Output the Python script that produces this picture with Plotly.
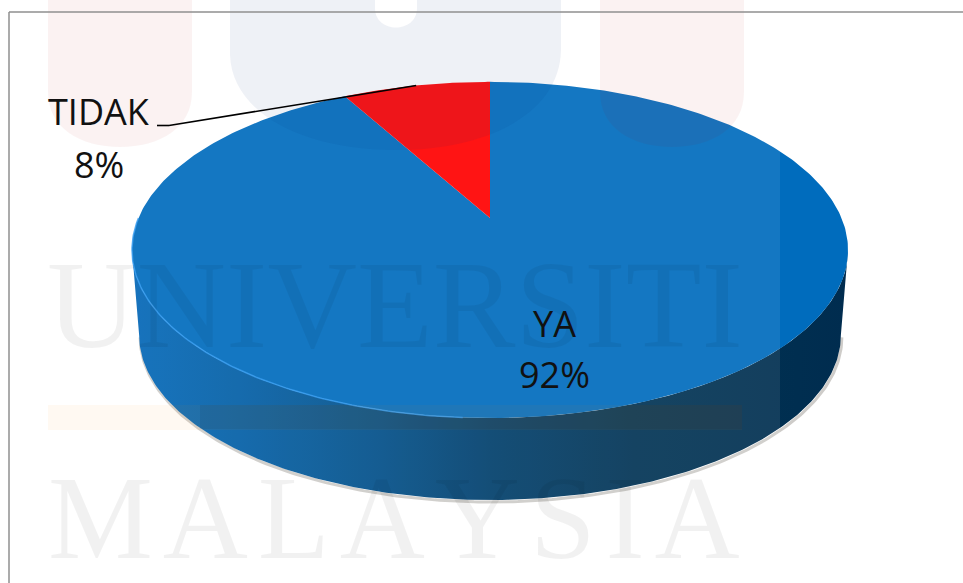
import numpy as np
import plotly.graph_objects as go

labels = ['YA', 'TIDAK']
values = [92, 8]
top_colors = ['#006cbd', '#ff0000']

# pixel sized canvas, y runs downwards like the screenshot
W, H = 963, 583
cx = 490
apex_top = 218
apex_bottom = 304
tilt = 0.19
scale_x = 351.5
scale_y = 162
bottom_shrink = 0.98

side_scale = [[0, '#0468b8'], [0.15, '#035fa6'], [0.35, '#024f88'], [0.5, '#013f6c'],
              [0.7, '#023455'], [0.93, '#002e50'], [1, '#002c4f']]


def project(angle, apex=apex_top, shrink=1.0):
    # angle is clockwise from 12 o'clock on the disc, perspective makes the centre sit high
    u = np.sin(angle)
    v = -np.cos(angle)
    w = 1 - tilt * v
    return cx + shrink * scale_x * u / w, apex + shrink * scale_y * v / w


def filled(x, y, color=None, **kw):
    return go.Scatter(x=x, y=y, mode='lines', fill='toself', fillcolor=color,
                      line=dict(width=0), hoverinfo='skip', showlegend=False, **kw)


fig = go.Figure()

# side wall, between the widest points of the two projected discs
half = np.arccos(tilt)
front = np.linspace(np.pi - half, np.pi + half, 240)
tx, ty = project(front)
bx, by = project(front, apex_bottom, bottom_shrink)
fig.add_trace(go.Scatter(x=bx + 1, y=by + 2, mode='lines', line=dict(color='rgba(60,50,40,0.25)', width=3),
                         hoverinfo='skip', showlegend=False))
side_x = np.concatenate([tx, bx[::-1]])
side_y = np.concatenate([ty, by[::-1]])
fig.add_trace(filled(side_x, side_y, fillgradient=dict(type='horizontal', colorscale=side_scale)))

# darker part of the watermark band on the wall
fig.add_trace(filled([200, 742, 742, 200], [405, 405, 429, 429], 'rgba(0,0,0,0.07)'))

# slices, start at 12 o'clock and run backwards so TIDAK ends up left of the top
total = sum(values)
shares = [v / total for v in values]
start = 2 * np.pi * (1 - shares[1])
ya_angles = np.linspace(0, start, 400)
tidak_angles = np.linspace(start, 2 * np.pi, 60)
yx, yy = project(ya_angles)
fig.add_trace(filled(np.r_[cx, yx, cx], np.r_[apex_top, yy, apex_top], top_colors[0]))
rx, ry = project(tidak_angles)
fig.add_trace(filled(np.r_[cx, rx, cx], np.r_[apex_top, ry, apex_top], top_colors[1]))

# bright rim on the front left
rim = np.linspace(np.pi * 1.02, np.pi * 1.5, 120)
hx, hy = project(rim)
fig.add_trace(go.Scatter(x=hx, y=hy, mode='lines', line=dict(color='rgba(40,150,240,0.8)', width=1.5),
                         hoverinfo='skip', showlegend=False))

# leader line goes to the middle of the small slice
lx, ly = project(start + np.pi * shares[1])

shapes = [
    # washed out logo and the white layer of the watermark
    dict(type='rect', x0=40, x1=780, y0=0, y1=H, fillcolor='rgba(255,255,255,0.08)', line_width=0),
    dict(type='path', path='M48 0 L48 92 C48 128 80 147 120 147 C160 147 192 128 192 92 L192 0 Z',
         fillcolor='rgba(180,0,0,0.05)', line_width=0),
    dict(type='path', path='M600 0 L600 92 C600 128 632 147 672 147 C712 147 744 128 744 92 L744 0 Z',
         fillcolor='rgba(180,0,0,0.05)', line_width=0),
    dict(type='path', path='M230 0 L230 55 C232 112 300 150 396 150 C490 150 560 112 561 50 L561 0 '
                           'L417 0 L417 8 C417 34 375 34 375 8 L375 0 Z',
         fillcolor='rgba(0,50,120,0.065)', line_width=0),
    dict(type='rect', x0=48, x1=742, y0=405, y1=430, fillcolor='rgba(255,130,0,0.05)', line_width=0),
    # frame
    dict(type='line', x0=9, x1=W, y0=12, y1=12, line=dict(color='#8f8f8f', width=1.5)),
    dict(type='line', x0=9, x1=9, y0=12, y1=H, line=dict(color='#8f8f8f', width=1.5)),
    # leader
    dict(type='line', x0=157, x1=169, y0=125.5, y1=125.5, line=dict(color='#000', width=1.6)),
    dict(type='line', x0=169, x1=lx, y0=125.5, y1=ly, line=dict(color='#000', width=1.6)),
]
fig.update_layout(shapes=shapes)


def note(text, x, y, size=36, family='Open Sans', color='#111111'):
    fig.add_annotation(x=x, y=y, text=text, showarrow=False, xanchor='center', yanchor='middle',
                       font=dict(family=family, size=size, color=color))


# watermark words
hair = '\u200a'
note('UNIVERSITI', 395, 305, 124, 'Liberation Serif', 'rgba(0,0,0,0.055)')
note(hair.join('MALAYSIA'), 394, 518, 118, 'Liberation Serif', 'rgba(0,0,0,0.055)')

# data labels
note(labels[1], 99, 111)
note(f'{values[1]}%', 99, 164)
note(labels[0], 554, 323)
note(f'{values[0]}%', 554, 374)

fig.update_xaxes(range=[0, W], visible=False, fixedrange=True)
fig.update_yaxes(range=[H, 0], visible=False, fixedrange=True)
fig.update_layout(width=W, height=H, margin=dict(l=0, r=0, t=0, b=0), paper_bgcolor='white',
                  plot_bgcolor='white', showlegend=False)
# the page's default body margin would push everything 8px down and right
fig.write_html("out.html", config=dict(displayModeBar=False),
               post_script="document.body.style.margin='0';document.body.style.overflow='hidden';")
